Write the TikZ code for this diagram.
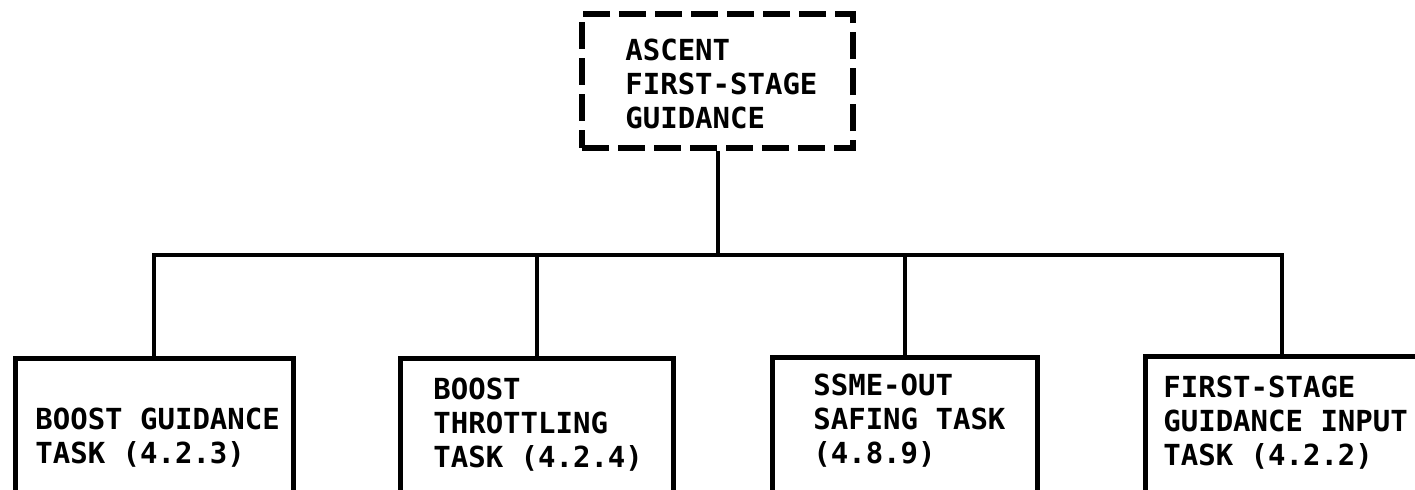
\documentclass[tikz,border=0pt]{standalone}
\usepackage{fontspec}
\newfontfamily\typefont{DejaVu Sans Mono Bold}
\begin{document}
\begin{tikzpicture}[x=0.5pt,y=-0.5pt,
  taskbox/.style={draw=black, line width=2.5pt, minimum width=#1, minimum height=71pt, inner sep=0pt, fill=none},
  topbox/.style={draw=black, line width=3pt, dash pattern=on 13.5pt off 4.5pt, minimum width=135.5pt, minimum height=67pt, inner sep=0pt},
  label/.style={anchor=base west, inner sep=0pt, align=left, font=\typefont\fontsize{14.5}{17}\selectfont},
  link/.style={draw=black, line width=2pt}]
\useasboundingbox (0,0) rectangle (1415,489);
\clip (0,0) rectangle (1415,489);
% top box
\node[topbox] (top) at (717.5,81) {};
\node[label] (toptxt) at (625,128) {ASCENT\\FIRST-STAGE\\GUIDANCE};
% task boxes
\node[taskbox=139pt] (b1) at (154,429) {};
\node[taskbox=136.5pt] (b2) at (536.5,429) {};
\node[taskbox=132.5pt] (b3) at (904.5,428.5) {};
\node[taskbox=136.5pt] (b4) at (1281.5,427.5) {};
\node[label] (t1) at (35,463) {BOOST GUIDANCE\\TASK (4.2.3)};
\node[label] (t2) at (433,467) {BOOST\\THROTTLING\\TASK (4.2.4)};
\node[label] (t3) at (813,463) {SSME-OUT\\SAFING TASK\\(4.8.9)};
\node[label] (t4) at (1163,465) {FIRST-STAGE\\GUIDANCE INPUT\\TASK (4.2.2)};
% connectors
\coordinate (j0) at (717.5,255);
\draw[link] (top.south) -- (j0);
\draw[link] (b1.north) -- (b1.north |- j0) -- (b4.north |- j0) -- (b4.north);
\draw[link] (b2.north) -- (b2.north |- j0);
\draw[link] (b3.north) -- (b3.north |- j0);
\end{tikzpicture}
\end{document}
